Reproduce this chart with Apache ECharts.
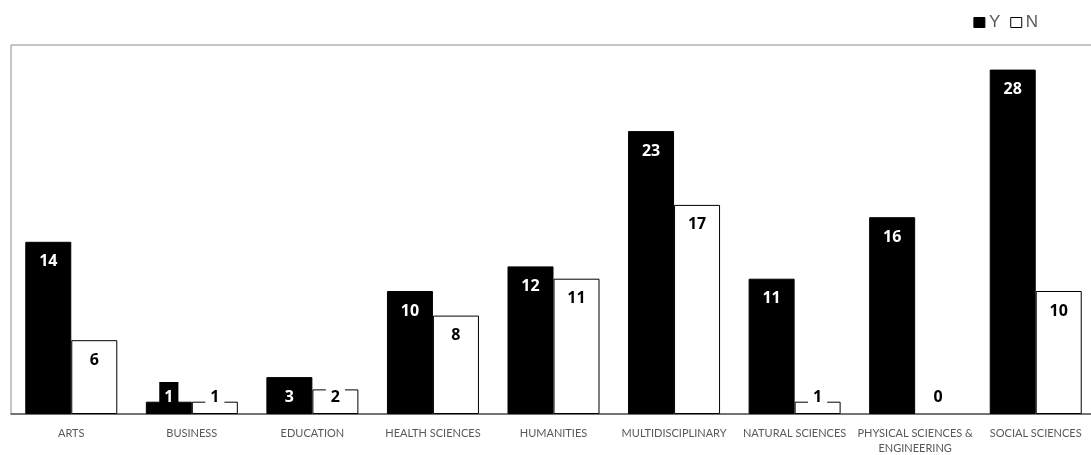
<!DOCTYPE html>
<html>
<head>
<meta charset="utf-8">
<script src="https://cdn.jsdelivr.net/npm/echarts@6/dist/echarts.min.js"></script>
<style>html,body{margin:0;padding:0;background:#fff;}#c{width:1091px;height:455px;}</style>
</head>
<body>
<div id="c"></div>
<script>
const categories = ['ARTS','BUSINESS','EDUCATION','HEALTH SCIENCES','HUMANITIES','MULTIDISCIPLINARY','NATURAL SCIENCES','PHYSICAL SCIENCES &\nENGINEERING','SOCIAL SCIENCES'];
const yValues = [14, 1, 3, 10, 12, 23, 11, 16, 28];
const nValues = [6, 1, 2, 8, 11, 17, 1, 0, 10];
const yMax = 30;

const pxPerUnit = 369 / yMax;
function buildData(vals, bg, fg) {
  return vals.map(v => {
    const small = v * pxPerUnit < 33;
    const item = {
      value: v,
      label: {
        show: true,
        position: small ? 'insideBottom' : 'insideTop',
        distance: small ? 2 : 5,
        color: fg,
        backgroundColor: bg,
        padding: [6, 5],
        fontFamily: 'Open Sans',
        fontWeight: 'bold',
        fontSize: 16,
        lineHeight: 18
      }
    };
    if (v === 0) item.itemStyle = { borderWidth: 0 };
    return item;
  });
}

const chart = echarts.init(document.getElementById('c'));
chart.setOption({
  animation: false,
  legend: {
    right: 48, top: 9,
    itemWidth: 11, itemHeight: 10, itemGap: 10,
    icon: 'rect',
    itemStyle: { borderWidth: 1 },
    textStyle: { color: '#595959', fontSize: 17, fontFamily: 'Liberation Sans', padding: [0,0,0,-1] },
    data: ['Y','N']
  },
  grid: { left: 11, width: 1085, top: 45, bottom: 41, show: true, borderColor: '#8c8c8c', borderWidth: 1, containLabel: false, outerBoundsMode: 'none' },
  xAxis: {
    type: 'category', data: categories,
    axisLine: { lineStyle: { color: '#595959', width: 1.5 } },
    axisTick: { show: false },
    axisLabel: { color: '#595959', fontSize: 11, fontFamily: 'Lato', margin: 12, lineHeight: 15, interval: 0 }
  },
  yAxis: { type: 'value', min: 0, max: yMax, show: false, splitLine: { show: false } },
  series: [
    { name: 'Y', type: 'bar', barWidth: 46, barGap: '0%', data: buildData(yValues, '#000', '#fff'),
      itemStyle: { color: '#000', borderColor: '#000', borderWidth: 1 } },
    { name: 'N', type: 'bar', barWidth: 46, barGap: '0%', data: buildData(nValues, '#fff', '#000'),
      itemStyle: { color: '#fff', borderColor: '#000', borderWidth: 1 } }
  ]
});
</script>
</body>
</html>
